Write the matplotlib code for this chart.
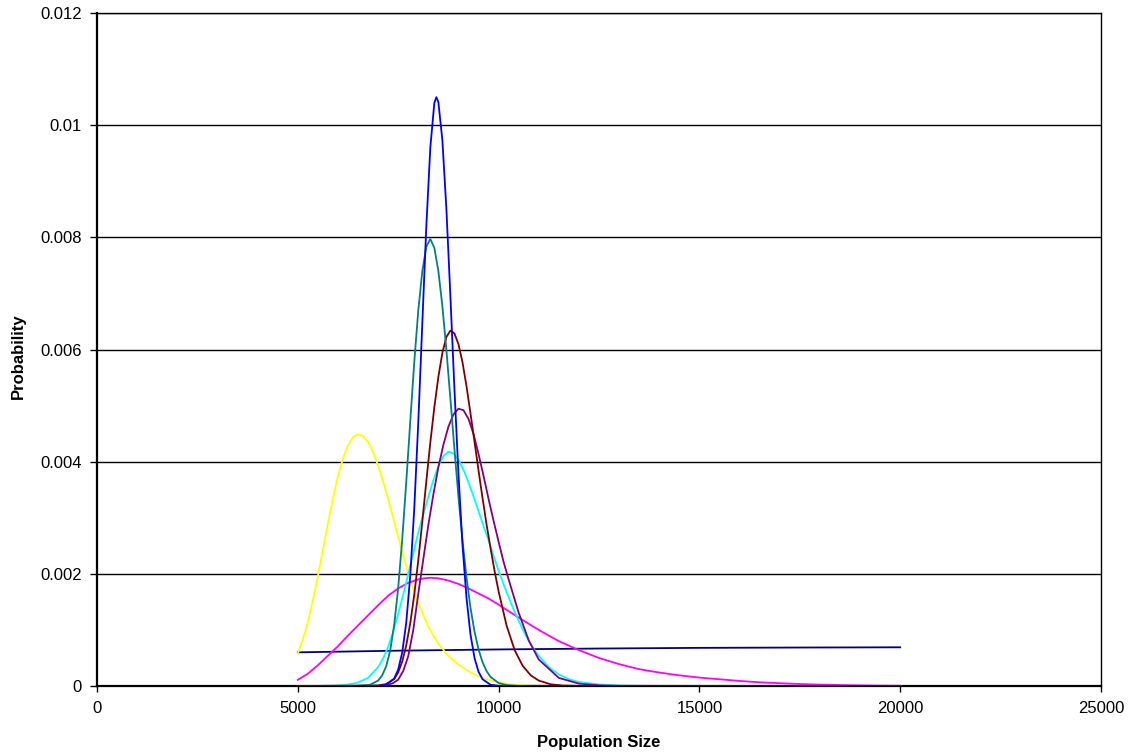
import matplotlib
matplotlib.use("Agg")
import matplotlib.pyplot as plt

plt.rcParams['font.family'] = ['Liberation Sans', 'DejaVu Sans']

# ---- data ----
navy_x = [5000, 7500, 10000, 12500, 15000, 17500, 20000]
navy_y = [0.0006, 0.00063, 0.000652, 0.000668, 0.00068, 0.000686, 0.00069]

yellow_x = [5000, 5125, 5250, 5375, 5500, 5625, 5750, 5875, 6000, 6125, 6250, 6375, 6500, 6625,
            6750, 6875, 7000, 7125, 7250, 7375, 7500, 7625, 7750, 7875, 8000, 8125, 8250, 8375,
            8500, 8750, 9000, 9250, 9500, 9750, 10000, 10250, 10500, 10750, 11000, 11500, 12000,
            20000]
yellow_y = [0.00058, 0.00083, 0.00114, 0.001524, 0.00196, 0.00243, 0.0029, 0.003349, 0.00374,
            0.004059, 0.00429, 0.004437, 0.00449, 0.004455, 0.00435, 0.004167, 0.00393, 0.003647,
            0.00333, 0.002998, 0.00266, 0.002327, 0.002, 0.001728, 0.00148, 0.00126, 0.00106,
            0.0009, 0.000755, 0.000536, 0.000379, 0.000265, 0.000171, 0.000109, 0.0000646,
            0.000035, 0.000018, 0.000009, 0.000004, 0.000001, 0, 0]

magenta_x = [5000, 5250, 5500, 5750, 6000, 6250, 6500, 6750, 7000, 7250, 7500, 7750, 8000, 8150,
             8300, 8500, 8750, 9000, 9250, 9500, 9750, 10000, 10500, 11000, 11500, 12000, 12500,
             13000, 13500, 14000, 14500, 15000, 15500, 16000, 16500, 17000, 17500, 18000, 18500,
             19000, 19500, 20000]
magenta_y = [0.00011, 0.00022, 0.00037, 0.00054, 0.00071, 0.0009, 0.00108, 0.00126, 0.00144,
             0.00161, 0.00174, 0.00184, 0.0019, 0.00192, 0.00193, 0.00192, 0.00188, 0.00182,
             0.00174, 0.00165, 0.00156, 0.00145, 0.00122, 0.001, 0.0008, 0.00064, 0.0005,
             0.00039, 0.0003, 0.00024, 0.00019, 0.00015, 0.00012, 0.00009, 0.000066, 0.00005,
             0.000035, 0.000025, 0.000017, 0.00001, 0.000006, 0.000004]

cyan_x = [5000, 5500, 6000, 6250, 6500, 6750, 7000, 7125, 7250, 7375, 7500, 7625, 7750, 7875,
          8000, 8125, 8250, 8375, 8500, 8625, 8750, 8875, 9000, 9125, 9250, 9375, 9500, 9625,
          9750, 9875, 10000, 10125, 10250, 10375, 10500, 10625, 10750, 10875, 11000, 11250,
          11500, 11750, 12000, 12500, 13000, 13500, 14000, 20000]
cyan_y = [0, 0.0000008, 0.0000086, 0.0000248, 0.0000632, 0.000145, 0.000337, 0.000493, 0.000698,
          0.000967, 0.00129, 0.001628, 0.001994, 0.002364, 0.002737, 0.003059, 0.003376,
          0.003669, 0.003919, 0.0041, 0.004178, 0.004147, 0.004033, 0.003855, 0.003632,
          0.003382, 0.003119, 0.002853, 0.002594, 0.002318, 0.002056, 0.00181, 0.001584,
          0.001363, 0.001164, 0.000974, 0.000807, 0.000662, 0.000538, 0.000339, 0.000204,
          0.000122, 0.0000708, 0.0000285, 0.0000085, 0.0000025, 0.0000007, 0]

purple_x = [5000, 7000, 7250, 7375, 7500, 7625, 7750, 7875, 8000, 8125, 8250, 8375, 8500, 8625,
            8750, 8875, 9000, 9125, 9250, 9375, 9500, 9625, 9750, 9875, 10000, 10125, 10250,
            10500, 10750, 11000, 11500, 12000, 12500, 13000, 20000]
purple_y = [0, 0.000003, 0.0000226, 0.0000527, 0.000113, 0.000267, 0.000531, 0.000997, 0.001645,
            0.00226, 0.002868, 0.003413, 0.003899, 0.0043, 0.004622, 0.004841, 0.004944,
            0.004918, 0.004763, 0.004495, 0.004138, 0.003746, 0.003335, 0.002944, 0.002573,
            0.00221, 0.0019, 0.001307, 0.000813, 0.000473, 0.000144, 0.0000426, 0.000011,
            0.000003, 0]

darkred_x = [5000, 7000, 7200, 7400, 7500, 7600, 7700, 7800, 7900, 8000, 8100, 8200, 8300, 8400,
             8500, 8600, 8700, 8800, 8900, 9000, 9100, 9200, 9300, 9400, 9500, 9600, 9700, 9800,
             9900, 10000, 10200, 10400, 10600, 10800, 11000, 11300, 11600, 12000, 20000]
darkred_y = [0, 0.0000087, 0.0000344, 0.000125, 0.000243, 0.000436, 0.000722, 0.00112, 0.001629,
             0.00224, 0.002927, 0.003648, 0.004343, 0.004971, 0.005511, 0.00594, 0.006223,
             0.006338, 0.006287, 0.006096, 0.005776, 0.005348, 0.00486, 0.004355, 0.003845,
             0.00335, 0.002883, 0.002455, 0.00205, 0.001686, 0.001075, 0.000639, 0.000359,
             0.000191, 0.0000963, 0.0000302, 0.0000078, 0.000001, 0]

teal_x = [5000, 6500, 6800, 7000, 7100, 7200, 7300, 7400, 7500, 7600, 7700, 7800, 7900, 8000,
          8100, 8200, 8300, 8400, 8500, 8600, 8700, 8800, 8900, 9000, 9100, 9200, 9300, 9400,
          9500, 9600, 9700, 9800, 10000, 10200, 10500, 20000]
teal_y = [0, 0.0000016, 0.0000222, 0.0000968, 0.000187, 0.000351, 0.000628, 0.001089, 0.001752,
          0.002609, 0.00363, 0.004714, 0.005772, 0.006697, 0.007392, 0.007834, 0.00797, 0.007812,
          0.0074, 0.006774, 0.005991, 0.005121, 0.004228, 0.003375, 0.002602, 0.00194, 0.001396,
          0.000971, 0.000653, 0.000424, 0.000266, 0.000161, 0.0000536, 0.0000155, 0.0000019, 0]

blue_x = [5000, 7000, 7200, 7400, 7500, 7600, 7700, 7800, 7900, 8000, 8100, 8200, 8300, 8400,
          8450, 8500, 8600, 8700, 8800, 8900, 9000, 9100, 9200, 9300, 9400, 9500, 9600, 9800,
          10000, 20000]
blue_y = [0, 0.0000025, 0.0000213, 0.000132, 0.000293, 0.000597, 0.001127, 0.001965, 0.003163,
          0.004702, 0.006458, 0.008194, 0.009603, 0.010396, 0.0105, 0.010412, 0.009733, 0.008505,
          0.006946, 0.005303, 0.003784, 0.002525, 0.001575, 0.000918, 0.0005, 0.000255, 0.000121,
          0.0000225, 0.0000032, 0]

x_ticks = [0, 5000, 10000, 15000, 20000, 25000]
y_ticks = [0, 0.002, 0.004, 0.006, 0.008, 0.01, 0.012]
y_tick_labels = ["0", "0.002", "0.004", "0.006", "0.008", "0.01", "0.012"]

series = [
    (navy_x, navy_y, "#000080"),
    (yellow_x, yellow_y, "#FFFF00"),
    (magenta_x, magenta_y, "#FF00FF"),
    (cyan_x, cyan_y, "#00FFFF"),
    (purple_x, purple_y, "#800080"),
    (darkred_x, darkred_y, "#800000"),
    (teal_x, teal_y, "#008080"),
    (blue_x, blue_y, "#0000FF"),
]

fig = plt.figure(figsize=(11.32, 7.55), dpi=100)
ax = fig.add_axes([97 / 1132, 1 - 686 / 755, 1004 / 1132, 673 / 755])

for xs, ys, c in series:
    ax.plot(xs, ys, color=c, lw=1.3, solid_joinstyle='round', zorder=3)

ax.set_xlim(0, 25000)
ax.set_ylim(0, 0.012)
ax.set_xticks(x_ticks)
ax.set_xticklabels([str(v) for v in x_ticks])
ax.set_yticks(y_ticks)
ax.set_yticklabels(y_tick_labels)
ax.yaxis.grid(True, color='black', lw=1.0, zorder=1)
ax.xaxis.grid(False)
ax.set_axisbelow(True)

for s in ['top', 'right']:
    ax.spines[s].set_color('black')
    ax.spines[s].set_linewidth(1.0)
for s in ['left', 'bottom']:
    ax.spines[s].set_color('black')
    ax.spines[s].set_linewidth(1.6)

ax.tick_params(axis='both', direction='out', width=1, colors='black', labelsize=12)
ax.tick_params(axis='x', length=4, pad=6.5)
ax.tick_params(axis='y', length=5, pad=5.8)
ax.tick_params(top=False, right=False)

ax.set_xlabel("Population Size", fontsize=12, fontweight='bold')
ax.set_ylabel("Probability", fontsize=12, fontweight='bold')
ax.xaxis.set_label_coords(0.5, -0.073)
ax.yaxis.set_label_coords(-0.0707, 0.49)

fig.savefig("out.png", dpi=100, facecolor='white')
